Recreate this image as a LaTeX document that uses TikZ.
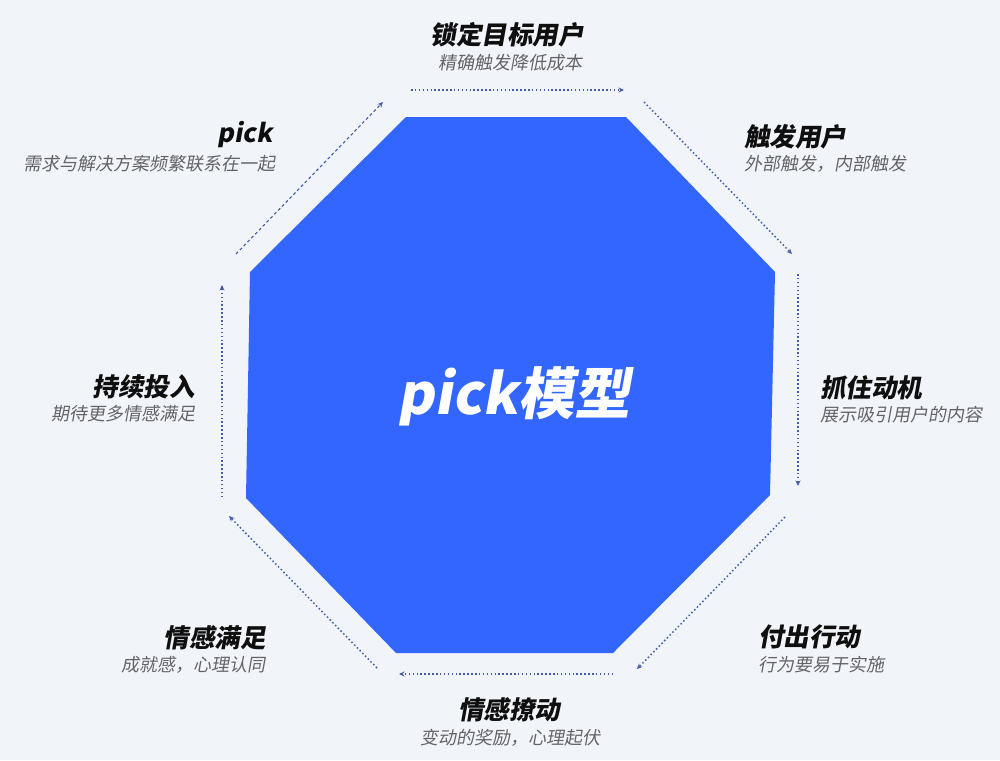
\documentclass[tikz,border=0pt]{standalone}
\usepackage{fontspec}
\usetikzlibrary{arrows.meta}
\newfontfamily\cjkfont[FakeSlant=0.18,BoldFeatures={FakeSlant=0.18}]{Noto Sans CJK SC}
\definecolor{bgc}{RGB}{241,244,249}
\definecolor{octc}{RGB}{51,102,255}
\definecolor{arrowc}{RGB}{68,92,168}
\definecolor{subgray}{RGB}{100,100,104}
\definecolor{headc}{RGB}{15,15,15}
\tikzset{
  head/.style={font=\cjkfont\bfseries\fontsize{25.5}{27}\selectfont, text=headc, inner sep=0pt},
  sub/.style={font=\cjkfont\fontsize{18}{20}\selectfont, text=subgray, inner sep=0pt},
  flow/.style={draw=arrowc, line width=1.5pt, dash pattern=on 1.5pt off 2.4pt, -{Stealth[length=5.5pt,width=5pt]}},
  flowdash/.style={draw=arrowc, line width=1.1pt, dash pattern=on 3pt off 2.5pt, -{Stealth[length=5.5pt,width=5pt]}},
  octa/.style={fill=octc, draw=none},
  centertext/.style={font=\cjkfont\bfseries\fontsize{56}{60}\selectfont, text=white, inner sep=0pt}
}
\begin{document}
\begin{tikzpicture}[x=1pt,y=-1pt]
\useasboundingbox[fill=bgc] (0,0) rectangle (1000,760);
% octagon
\fill[octa] (406,117) -- (626,117) -- (775,272) -- (770,495) -- (613,653) -- (396,653) -- (246,498) -- (250,272) -- cycle;
\node[centertext] (center) at (514,396) {pick模型};
% arrow end points
\coordinate (a1s) at (411,90);  \coordinate (a1e) at (624,90);
\coordinate (a2s) at (644,102); \coordinate (a2e) at (792,254);
\coordinate (a3s) at (798,274); \coordinate (a3e) at (798,486);
\coordinate (a4s) at (785,517); \coordinate (a4e) at (637,669);
\coordinate (a5s) at (613,674); \coordinate (a5e) at (399,674);
\coordinate (a6s) at (377,668); \coordinate (a6e) at (229,516);
\coordinate (a7s) at (222,497); \coordinate (a7e) at (222,285);
\coordinate (a8s) at (236,254); \coordinate (a8e) at (383,102);
\draw[flow] (a1s) -- (a1e);
\draw[flow] (a2s) -- (a2e);
\draw[flow] (a3s) -- (a3e);
\draw[flow] (a4s) -- (a4e);
\draw[flow] (a5s) -- (a5e);
\draw[flow] (a6s) -- (a6e);
\draw[flow] (a7s) -- (a7e);
\draw[flowdash] (a8s) -- (a8e);
% labels
\node[head] (h1) at (507,35) {锁定目标用户};
\node[sub] (s1) at (510,63) {精确触发降低成本};
\node[head, anchor=west] (h2) at (744,137) {触发用户};
\node[sub, anchor=west] (s2) at (744,164) {外部触发，内部触发};
\node[head, anchor=west] (h3) at (820,388) {抓住动机};
\node[sub, anchor=west] (s3) at (820,415) {展示吸引用户的内容};
\node[head, anchor=west] (h4) at (758,637) {付出行动};
\node[sub, anchor=west] (s4) at (758,665) {行为要易于实施};
\node[head] (h5) at (509,710) {情感撩动};
\node[sub] (s5) at (510,738) {变动的奖励，心理起伏};
\node[head, anchor=east] (h6) at (266,638) {情感满足};
\node[sub, anchor=east] (s6) at (266,665) {成就感，心理认同};
\node[head, anchor=east] (h7) at (195,387) {持续投入};
\node[sub, anchor=east] (s7) at (196,414) {期待更多情感满足};
\node[head, anchor=east] (h8) at (273,135) {pick};
\node[sub, anchor=east] (s8) at (276,164) {需求与解决方案频繁联系在一起};
\end{tikzpicture}
\end{document}
